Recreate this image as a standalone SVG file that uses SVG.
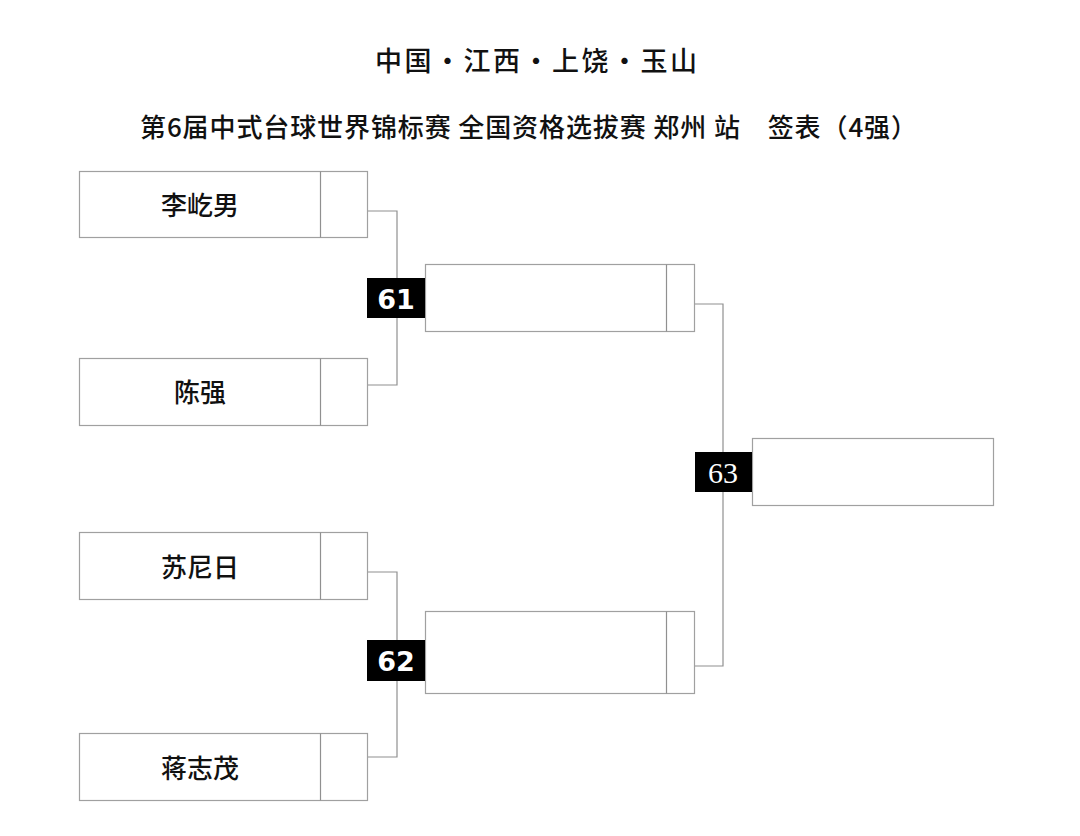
<svg xmlns="http://www.w3.org/2000/svg" width="1080" height="836" viewBox="0 0 1080 836">
<style>
.box{fill:#fff;stroke:#a0a0a0;stroke-width:1.2}
.div{stroke:#909090;stroke-width:1.2}
.con{fill:none;stroke:#909090;stroke-width:1.2}
.name{font-family:"Noto Sans CJK SC",sans-serif;font-size:26px;font-weight:500;fill:#111;text-anchor:middle}
.title{font-family:"Noto Sans CJK SC",sans-serif;font-weight:500;fill:#111}
.badge{fill:#000}
.bnum{font-family:"DejaVu Sans",sans-serif;font-weight:bold;font-size:27px;fill:#fff;text-anchor:middle}
.bnum2{font-family:"Liberation Serif",serif;font-size:30px;fill:#fff;text-anchor:middle}
</style>
<rect width="1080" height="836" fill="#fff"/>
<text class="title" x="375" y="71" font-size="27" textLength="322" lengthAdjust="spacing">中国•江西•上饶•玉山</text>
<text class="title" x="140" y="137" font-size="26" textLength="777" lengthAdjust="spacing">第6届中式台球世界锦标赛 全国资格选拔赛 郑州 站　签表（4强）</text>
<g id="connectors">
<polyline class="con" points="367,211 397,211 397,385 367,385"/>
<polyline class="con" points="367,572 397,572 397,757 367,757"/>
<polyline class="con" points="695,304 723,304 723,666 695,666"/>
</g>
<g id="p1"><rect class="box" x="79.5" y="171.5" width="288" height="66"/><line class="div" x1="320.5" y1="171.5" x2="320.5" y2="237.5"/><text class="name" x="200" y="215">李屹男</text></g>
<g id="p2"><rect class="box" x="79.5" y="358.5" width="288" height="67"/><line class="div" x1="320.5" y1="358.5" x2="320.5" y2="425.5"/><text class="name" x="200" y="402">陈强</text></g>
<g id="p3"><rect class="box" x="79.5" y="532.5" width="288" height="67"/><line class="div" x1="320.5" y1="532.5" x2="320.5" y2="599.5"/><text class="name" x="200" y="577">苏尼日</text></g>
<g id="p4"><rect class="box" x="79.5" y="733.5" width="288" height="67"/><line class="div" x1="320.5" y1="733.5" x2="320.5" y2="800.5"/><text class="name" x="200" y="778">蒋志茂</text></g>
<g id="w61"><rect class="box" x="425.5" y="264.5" width="269" height="67"/><line class="div" x1="666.5" y1="264.5" x2="666.5" y2="331.5"/></g>
<g id="w62"><rect class="box" x="425.5" y="611.5" width="269" height="82"/><line class="div" x1="666.5" y1="611.5" x2="666.5" y2="693.5"/></g>
<g id="w63"><rect class="box" x="752.5" y="438.5" width="241" height="67"/></g>
<g id="m61"><rect class="badge" x="367" y="278" width="58" height="40"/><text class="bnum" x="396" y="309">61</text></g>
<g id="m62"><rect class="badge" x="367" y="640" width="58" height="41"/><text class="bnum" x="396" y="671">62</text></g>
<g id="m63"><rect class="badge" x="695" y="452" width="57" height="40"/><text class="bnum2" x="723" y="483">63</text></g>
</svg>
